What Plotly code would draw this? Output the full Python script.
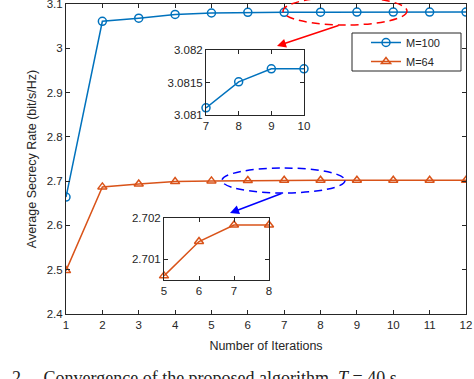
import plotly.graph_objects as go

iterations = list(range(1, 13))
m100 = [2.664, 3.061, 3.068, 3.0765, 3.0797, 3.0812, 3.08111, 3.08151, 3.08171, 3.08171, 3.08171, 3.08171]
m64 = [2.498, 2.687, 2.6935, 2.699, 2.7006, 2.70143, 2.70183, 2.70183, 2.70183, 2.70183, 2.70183, 2.70183]

y_ticks = [2.4, 2.5, 2.6, 2.7, 2.8, 2.9, 3.0, 3.1]
y_ticktext = ["2.4", "2.5", "2.6", "2.7", "2.8", "2.9", "3", "3.1"]

zoom100_x = [7, 8, 9, 10]
zoom100_y = [3.08111, 3.08151, 3.08171, 3.08171]
zoom64_x = [5, 6, 7, 8]
zoom64_y = [2.70060, 2.70143, 2.70183, 2.70183]

BLUE = "#0072BD"
ORANGE = "#D95319"
AX = "#262626"
FONT = "Liberation Sans, Arial, sans-serif"

W, H = 474, 379
L, R, T, B = 66, 8, 4, 65
pw, ph = W - L - R, H - T - B

def px2paper_x(px):
    return (px - L) / pw

def px2paper_y(py):
    return (H - B - py) / ph

fig = go.Figure()
fig.add_trace(go.Scatter(x=iterations, y=m100, name="M=100", mode="lines+markers",
                         line=dict(color=BLUE, width=1.5),
                         marker=dict(symbol="circle-open", size=8, color=BLUE, line=dict(width=1.5))))
fig.add_trace(go.Scatter(x=iterations, y=m64, name="M=64", mode="lines+markers",
                         line=dict(color=ORANGE, width=1.5),
                         marker=dict(symbol="triangle-up-open", size=8, color=ORANGE, line=dict(width=1.5))))
fig.add_trace(go.Scatter(x=zoom100_x, y=zoom100_y, mode="lines+markers", showlegend=False,
                         xaxis="x2", yaxis="y2", cliponaxis=False,
                         line=dict(color=BLUE, width=1.5),
                         marker=dict(symbol="circle-open", size=8, color=BLUE, line=dict(width=1.5))))
fig.add_trace(go.Scatter(x=zoom64_x, y=zoom64_y, mode="lines+markers", showlegend=False,
                         xaxis="x3", yaxis="y3", cliponaxis=False,
                         line=dict(color=ORANGE, width=1.5),
                         marker=dict(symbol="triangle-up-open", size=8, color=ORANGE, line=dict(width=1.5))))

axcommon = dict(showgrid=False, zeroline=False, showline=True, linecolor=AX, linewidth=1,
                mirror="ticks", ticks="inside", ticklen=4, tickcolor=AX, automargin=False,
                ticklabeloverflow="allow",
                tickfont=dict(family=FONT, size=11.5, color=AX))

fig.update_layout(
    width=W, height=H,
    margin=dict(l=L, r=R, t=T, b=B, autoexpand=False),
    paper_bgcolor="white", plot_bgcolor="white",
    font=dict(family=FONT, color=AX),
    xaxis=dict(range=[1, 12], tickvals=iterations, domain=[0, 1],
               title=dict(text="Number of Iterations", font=dict(size=12.5, color=AX), standoff=11),
               **axcommon),
    yaxis=dict(range=[2.4, 3.1], tickvals=y_ticks, ticktext=y_ticktext, domain=[0, 1],
               title=dict(text="Average Secrecy Rate (bit/s/Hz)", font=dict(size=12.5, color=AX), standoff=7),
               **axcommon),
    xaxis2=dict(range=[7, 10], tickvals=zoom100_x, anchor="y2",
                domain=[px2paper_x(206), px2paper_x(304)], **axcommon),
    yaxis2=dict(range=[3.081, 3.082], tickvals=[3.081, 3.0815, 3.082], ticktext=["3.081", "3.0815", "3.082"],
                anchor="x2", domain=[px2paper_y(115), px2paper_y(50)], **axcommon),
    xaxis3=dict(range=[5, 8], tickvals=zoom64_x, anchor="y3",
                domain=[px2paper_x(164), px2paper_x(269)], **axcommon),
    yaxis3=dict(range=[2.7005, 2.702], tickvals=[2.701, 2.702], ticktext=["2.701", "2.702"],
                anchor="x3", domain=[px2paper_y(280), px2paper_y(218)], **axcommon),
    legend=dict(x=px2paper_x(366), y=px2paper_y(28), xanchor="left", yanchor="top",
                bgcolor="rgba(0,0,0,0)", borderwidth=0,
                font=dict(family=FONT, size=11, color=AX), tracegroupgap=0, itemwidth=30),
    showlegend=True,
)

# legend frame
fig.add_shape(type="rect", xref="paper", yref="paper",
              x0=px2paper_x(352), x1=px2paper_x(461), y0=px2paper_y(71), y1=px2paper_y(33),
              line=dict(color=AX, width=1), fillcolor="white", layer="above")

# dashed ellipses highlighting the zoomed regions
fig.add_shape(type="circle", xref="paper", yref="paper",
              x0=px2paper_x(283), x1=px2paper_x(407), y0=px2paper_y(25), y1=px2paper_y(-3),
              line=dict(color="red", width=1.5, dash="8px,5px"), layer="above")
fig.add_shape(type="circle", xref="paper", yref="paper",
              x0=px2paper_x(222), x1=px2paper_x(345), y0=px2paper_y(193), y1=px2paper_y(168),
              line=dict(color="blue", width=1.5, dash="8px,5px"), layer="above")

# arrows (tail offsets in pixels)
fig.add_annotation(xref="paper", yref="paper", axref="pixel", ayref="pixel",
                   x=px2paper_x(277), y=px2paper_y(46), ax=63, ay=-21,
                   text="", showarrow=True, arrowhead=2, arrowsize=1.2, arrowwidth=1.5, arrowcolor="red")
fig.add_annotation(xref="paper", yref="paper", axref="pixel", ayref="pixel",
                   x=px2paper_x(230), y=px2paper_y(213), ax=53, ay=-20,
                   text="", showarrow=True, arrowhead=2, arrowsize=1.2, arrowwidth=1.5, arrowcolor="blue")

# caption (partially visible, cut by the bottom edge as in the reference)
fig.add_annotation(xref="paper", yref="paper", x=px2paper_x(10), y=px2paper_y(366),
                   xanchor="left", yanchor="top", showarrow=False,
                   text="2.    Convergence of the proposed algorithm. <i>T</i> = 40 s",
                   font=dict(family="Liberation Serif, Times New Roman, serif", size=18, color="#222"))

fig.write_html("out.html", config={"displayModeBar": False},
               post_script="document.body.style.margin='0';document.body.style.overflow='hidden';")
